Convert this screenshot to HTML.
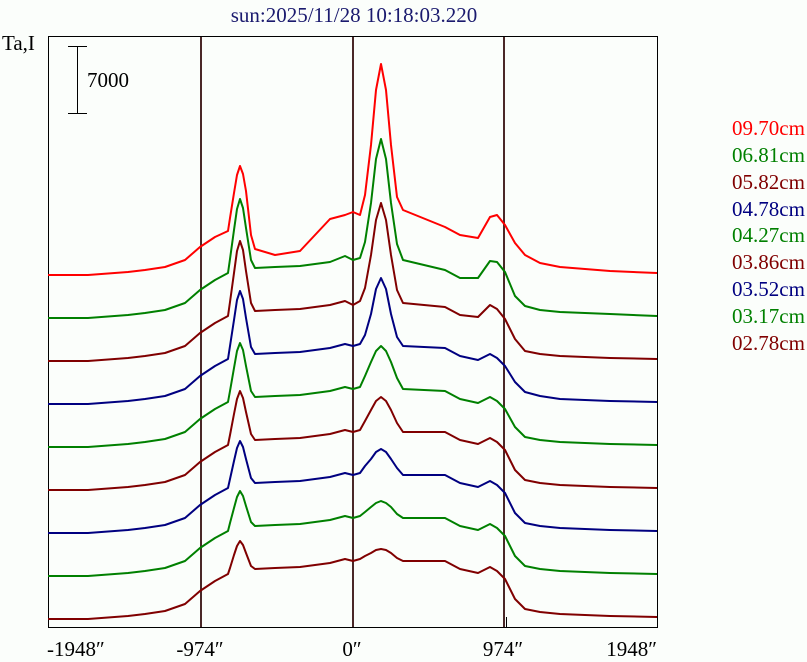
<!DOCTYPE html>
<html><head><meta charset="utf-8"><style>
html,body{margin:0;padding:0;background:#fbfefb;}
svg{display:block;font-family:"Liberation Serif",serif;}
</style></head><body>
<svg width="807" height="662" viewBox="0 0 807 662" xmlns="http://www.w3.org/2000/svg">
<rect width="807" height="662" fill="#fbfefb"/>
<text x="354" y="22" font-size="21" fill="#1a1a6e" text-anchor="middle">sun:2025/11/28 10:18:03.220</text>
<text x="2" y="50" font-size="21" fill="#000">Ta,I</text>
<rect x="48.5" y="36.5" width="609" height="591" fill="none" stroke="#000" stroke-width="1"/>
<line x1="77.5" y1="46" x2="77.5" y2="113" stroke="#000"/>
<line x1="68" y1="46.5" x2="87" y2="46.5" stroke="#000"/>
<line x1="68" y1="113.5" x2="87" y2="113.5" stroke="#000"/>
<text x="87" y="87" font-size="21" fill="#000">7000</text>
<g stroke="#4a2828" stroke-width="2">
<line x1="201" y1="37" x2="201" y2="627"/>
<line x1="353" y1="37" x2="353" y2="627"/>
<line x1="504" y1="37" x2="504" y2="627"/>
</g>
<line x1="506.5" y1="617" x2="506.5" y2="627" stroke="#000"/>
<g fill="none" stroke-width="2" stroke-linejoin="round">
<polyline stroke="#ff0000" points="48,275 88,275 128,272 145,270 165,267 185,260 200,247 215,237 228,231 230,218 234,193 237,175 240,166 243,174 246,191 251,235 255,249 275,255 300,251 330,219 345,215 353,212 360,215 365,195 371,145 376,90 381,64 386,90 391,145 397,197 403,210 445,227 460,235 478,238 490,217 497,215 505,225 515,243 525,255 540,263 560,267 610,271 657,273"/>
<polyline stroke="#008000" points="48,318 88,318 128,315 145,313 165,310 185,303 200,290 215,280 228,273 230,259 234,230 237,209 240,199 243,208 246,228 251,260 255,268 275,267 300,266 330,262 345,256 353,260 360,258 365,242 371,203 376,159 381,139 386,159 391,203 397,244 403,260 445,270 460,278 478,278 490,261 497,262 505,272 515,296 525,306 540,310 560,312 610,314 657,316"/>
<polyline stroke="#800000" points="48,361 88,361 128,358 145,356 165,353 185,346 200,333 215,323 228,316 230,302 234,273 237,251 240,241 243,250 246,271 251,303 255,311 275,310 300,309 330,305 345,301 353,305 360,301 365,288 371,255 376,220 381,203 386,220 391,255 397,290 403,303 445,307 460,315 478,317 490,305 497,309 505,319 515,339 525,351 540,354 560,356 610,358 657,359"/>
<polyline stroke="#000080" points="48,404 88,404 128,401 145,399 165,396 185,389 200,376 215,366 228,359 230,346 234,320 237,300 240,291 243,299 246,318 251,347 255,354 275,353 300,352 330,348 345,344 353,346 360,344 365,335 371,314 376,289 381,278 386,289 391,314 397,337 403,346 445,348 460,356 478,360 490,354 497,358 505,366 515,382 525,392 540,396 560,399 610,401 657,402"/>
<polyline stroke="#008000" points="48,447 88,447 128,444 145,442 165,439 185,432 200,419 215,409 228,402 230,391 234,368 237,351 240,343 243,350 246,366 251,391 255,397 275,396 300,395 330,391 345,387 353,389 360,387 365,376 371,362 376,351 381,346 386,351 391,362 397,378 403,389 445,391 460,399 478,403 490,397 497,401 505,409 515,427 525,437 540,440 560,442 610,444 657,445"/>
<polyline stroke="#800000" points="48,490 88,490 128,487 145,485 165,482 185,475 200,462 215,452 228,445 230,435 234,414 237,399 240,391 243,398 246,412 251,434 255,440 275,439 300,438 330,434 345,430 353,432 360,430 365,421 371,410 376,401 381,397 386,401 391,410 397,423 403,432 445,432 460,440 478,444 490,438 497,442 505,450 515,470 525,480 540,483 560,485 610,487 657,488"/>
<polyline stroke="#000080" points="48,533 88,533 128,530 145,528 165,525 185,518 200,505 215,495 228,488 230,479 234,461 237,448 240,441 243,447 246,459 251,478 255,483 275,482 300,481 330,477 345,473 353,475 360,473 365,466 371,459 376,452 381,449 386,452 391,459 397,468 403,475 445,475 460,483 478,487 490,481 497,485 505,493 515,513 525,523 540,526 560,528 610,530 657,531"/>
<polyline stroke="#008000" points="48,576 88,576 128,573 145,571 165,568 185,561 200,548 215,538 228,531 230,523 234,508 237,497 240,491 243,496 246,506 251,522 255,526 275,525 300,524 330,520 345,516 353,518 360,516 365,512 371,507 376,503 381,501 386,503 391,507 397,514 403,518 445,518 460,526 478,530 490,524 497,528 505,536 515,556 525,566 540,569 560,571 610,573 657,574"/>
<polyline stroke="#800000" points="48,619 88,619 128,616 145,614 165,611 185,604 200,591 215,581 228,574 230,568 234,555 237,546 240,541 243,545 246,553 251,566 255,569 275,568 300,567 330,563 345,559 353,561 360,559 365,556 371,553 376,550 381,549 386,550 391,553 397,558 403,561 445,561 460,569 478,573 490,567 497,571 505,579 515,599 525,609 540,612 560,614 610,616 657,617"/>
</g>
<g font-size="21" fill="#000">
<text x="47" y="656">-1948″</text>
<text x="200" y="656" text-anchor="middle">-974″</text>
<text x="352" y="656" text-anchor="middle">0″</text>
<text x="503" y="656" text-anchor="middle">974″</text>
<text x="657" y="656" text-anchor="end">1948″</text>
</g>
<g font-size="21">
<text x="732" y="135" fill="#ff0000">09.70cm</text>
<text x="732" y="162" fill="#008000">06.81cm</text>
<text x="732" y="189" fill="#800000">05.82cm</text>
<text x="732" y="216" fill="#000080">04.78cm</text>
<text x="732" y="242" fill="#008000">04.27cm</text>
<text x="732" y="269" fill="#800000">03.86cm</text>
<text x="732" y="296" fill="#000080">03.52cm</text>
<text x="732" y="323" fill="#008000">03.17cm</text>
<text x="732" y="350" fill="#800000">02.78cm</text>
</g>
</svg>
</body></html>
